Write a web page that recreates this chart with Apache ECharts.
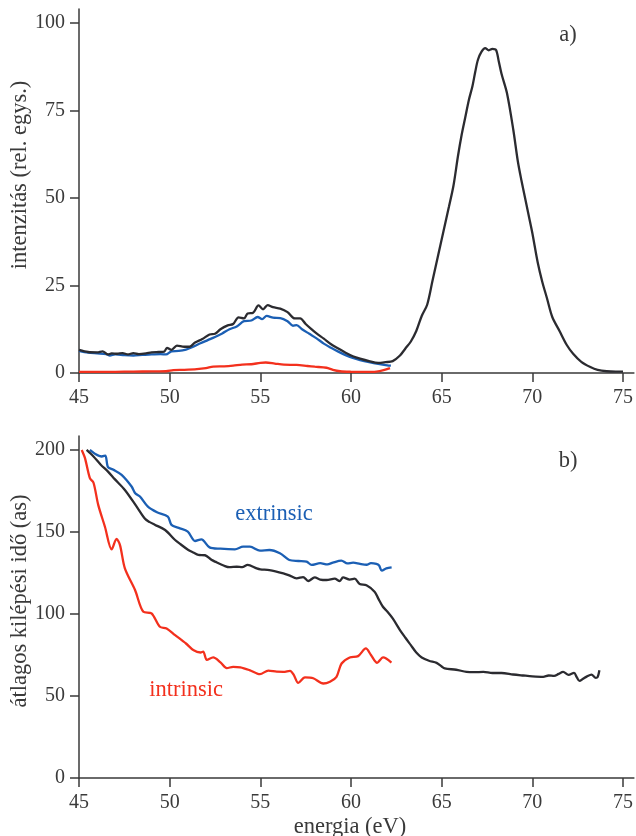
<!DOCTYPE html>
<html>
<head>
<meta charset="utf-8">
<script src="https://cdn.jsdelivr.net/npm/echarts@6/dist/echarts.min.js"></script>
<style>
  html, body { margin: 0; padding: 0; background: #fff; }
  #chart { width: 636px; height: 836px; }
</style>
</head>
<body>
<div id="chart"></div>
<script>
// a) intenzitás
const teljesE = [45.0, 45.5, 46.0, 46.3, 46.6, 46.8, 47.1, 47.4, 47.7, 48.0, 48.3, 48.7, 49.0, 49.4, 49.7, 49.85, 50.1, 50.4, 50.8, 51.1, 51.4, 51.8, 52.2, 52.5, 52.8, 53.2, 53.5, 53.8, 54.1, 54.3, 54.6, 54.9, 55.15, 55.4, 55.7, 56.1, 56.5, 56.9, 57.2, 57.5, 57.8, 58.1, 58.5, 58.9, 59.3, 59.7, 60.1, 60.5, 61.0, 61.5, 61.9, 62.3, 62.7, 63.0, 63.3, 63.6, 63.9, 64.2, 64.5, 64.8, 65.1, 65.4, 65.65, 65.9, 66.1, 66.3, 66.5, 66.7, 66.85, 67.0, 67.2, 67.4, 67.6, 67.8, 68.0, 68.15, 68.3, 68.6, 68.95, 69.2, 69.4, 69.6, 69.8, 70.0, 70.3, 70.55, 70.8, 71.1, 71.5, 71.9, 72.25, 72.7, 73.2, 73.6, 74.1, 74.6, 75.0]
const teljesI = [6.6, 6.0, 5.9, 6.2, 5.3, 5.6, 5.5, 5.7, 5.3, 5.7, 5.4, 5.6, 5.9, 6.0, 6.1, 7.2, 6.6, 7.8, 7.5, 7.5, 8.7, 9.7, 11.0, 11.2, 12.5, 13.6, 14.0, 15.9, 15.6, 17.0, 17.2, 19.3, 18.2, 19.4, 18.8, 18.4, 17.4, 15.6, 15.6, 14.0, 12.6, 11.3, 9.8, 8.2, 7.0, 5.8, 4.8, 4.1, 3.4, 2.9, 3.1, 3.4, 5.0, 7.0, 9.0, 12.0, 16.3, 19.5, 26.5, 33.5, 40.5, 47.5, 53.5, 62.0, 68.0, 73.0, 78.0, 82.0, 86.0, 89.5, 91.8, 92.8, 92.2, 92.6, 92.3, 89.0, 85.5, 80.0, 69.5, 60.5, 55.0, 50.0, 45.0, 40.0, 31.5, 26.0, 21.5, 16.0, 12.0, 8.0, 5.5, 3.2, 1.7, 0.9, 0.5, 0.4, 0.4]

const extrE = [45.0, 45.5, 46.0, 46.5, 46.7, 47.0, 47.5, 48.0, 48.5, 49.0, 49.5, 49.8, 50.1, 50.5, 50.9, 51.3, 51.7, 52.1, 52.5, 52.9, 53.3, 53.7, 54.1, 54.5, 54.85, 55.1, 55.35, 55.7, 56.1, 56.5, 56.8, 57.0, 57.3, 57.7, 58.1, 58.5, 58.9, 59.3, 59.7, 60.1, 60.5, 61.0, 61.5, 62.0, 62.2]
const extrI = [6.3, 5.8, 5.6, 5.4, 5.0, 5.3, 5.1, 5.0, 5.2, 5.3, 5.4, 5.3, 6.2, 6.3, 6.7, 7.5, 8.5, 9.4, 10.3, 11.3, 12.5, 13.3, 14.8, 15.0, 16.0, 15.4, 16.3, 15.8, 15.7, 14.8, 13.5, 13.7, 12.5, 11.2, 9.9, 8.4, 7.2, 6.1, 5.1, 4.3, 3.7, 3.1, 2.6, 2.2, 2.1]

const intrE = [45.0, 46.0, 47.0, 48.0, 49.0, 49.8, 50.2, 50.8, 51.5, 52.0, 52.4, 53.0, 53.5, 54.0, 54.5, 55.0, 55.3, 55.8, 56.3, 57.0, 57.6, 58.0, 58.65, 59.0, 59.4, 60.0, 60.8, 61.4, 61.8, 62.15]
const intrI = [0.3, 0.3, 0.35, 0.4, 0.45, 0.5, 0.8, 0.9, 1.1, 1.4, 1.8, 1.9, 2.1, 2.4, 2.5, 2.9, 3.0, 2.7, 2.4, 2.3, 2.0, 1.8, 1.5, 0.9, 0.5, 0.35, 0.3, 0.4, 0.8, 1.4]

// b) átlagos kilépési idő
const teljesTE = [45.42, 45.8, 46.2, 46.6, 46.97, 47.53, 48.18, 48.64, 48.9, 49.2, 49.75, 50.3, 50.6, 51.03, 51.3, 51.58, 51.95, 52.3, 52.5, 53.05, 53.3, 53.7, 54.0, 54.3, 54.8, 55.0, 55.5, 56.27, 56.6, 57.0, 57.36, 57.64, 58.0, 58.3, 58.65, 59.1, 59.38, 59.56, 59.93, 60.2, 60.48, 60.85, 61.3, 61.5, 61.76, 62.0, 62.3, 62.7, 63.0, 63.3, 63.6, 63.9, 64.3, 64.72, 65.0, 65.17, 65.8, 66.37, 66.8, 67.3, 67.8, 68.3, 68.94, 69.5, 70.0, 70.6, 70.9, 71.2, 71.45, 71.7, 72.0, 72.3, 72.45, 72.6, 72.8, 73.0, 73.26, 73.5, 73.6, 73.7]
const teljesT = [200, 196, 191, 186.8, 182.2, 175.6, 165.4, 158, 156, 154.3, 151.2, 145.1, 142.5, 139, 137.5, 136, 135.8, 133, 131.9, 129.2, 128.5, 128.8, 128.5, 129.9, 127.8, 127.2, 126.8, 124.8, 123.5, 121.7, 122.5, 120.1, 122.3, 121, 120.7, 121.5, 120.1, 122.3, 121, 121.5, 118.2, 117.5, 113.6, 109.5, 104.4, 101.5, 97.3, 90.2, 85.5, 81, 76.5, 73.5, 71.5, 70.2, 68, 66.8, 66, 64.7, 64.5, 64.7, 64, 64, 63.1, 62.5, 62, 61.7, 62.5, 62.2, 63.5, 64.7, 62.9, 64.1, 61.5, 59.2, 60.5, 61.8, 63, 61, 61.5, 65.7]

const extrTE = [45.6, 45.9, 46.25, 46.45, 46.6, 46.9, 47.35, 47.9, 48.1, 48.36, 48.8, 49.3, 49.9, 50.1, 50.5, 51.0, 51.4, 51.75, 52.2, 52.8, 53.6, 54.05, 54.43, 54.98, 55.5, 56.08, 56.6, 57.1, 57.55, 57.83, 58.3, 58.7, 59.0, 59.47, 59.8, 60.12, 60.5, 60.86, 61.1, 61.4, 61.55, 61.7, 61.95, 62.24]
const extrT = [200, 197.5, 196, 196.5, 189.5, 187.9, 184.8, 177.7, 173.6, 171.6, 165.4, 162, 159.3, 154.3, 152.5, 150.2, 144.5, 145.5, 140.6, 139.8, 139.4, 141, 141, 138.6, 139, 137, 132.9, 132.3, 131.9, 129.9, 131, 130.2, 131.3, 132.5, 130.8, 131.3, 130.5, 130, 131, 130.5, 129.5, 126.4, 127.8, 128.4]

const intrTE = [45.15, 45.33, 45.6, 45.8, 46.06, 46.43, 46.8, 47.07, 47.26, 47.53, 48.09, 48.55, 49.0, 49.46, 49.83, 50.3, 50.9, 51.3, 51.7, 51.85, 52.05, 52.4, 52.8, 53.15, 53.5, 53.9, 54.4, 54.98, 55.44, 55.9, 56.27, 56.64, 56.85, 57.09, 57.46, 57.92, 58.47, 58.84, 59.2, 59.48, 59.93, 60.39, 60.82, 61.1, 61.44, 61.77, 62.23]
const intrT = [200, 195, 182.8, 180, 166.5, 153.2, 139.4, 145.7, 142, 127.8, 114.6, 101.3, 100.4, 92.2, 91.2, 87.1, 82, 78, 76.5, 77, 72, 73.5, 70.5, 67, 67.8, 67.5, 65.8, 63.3, 65.5, 64.8, 64.7, 65.3, 62.7, 58, 61.3, 60.8, 57.6, 58.7, 61.7, 69.8, 73.5, 74.3, 79, 75, 70.2, 73.5, 70.4]

const xTicks = [45, 50, 55, 60, 65, 70, 75]
const yTicksA = [0, 25, 50, 75, 100]
const yTicksB = [0, 50, 100, 150, 200]

const zip = (xs, ys) => xs.map((x, i) => [x, ys[i]])

const fekete = '#2b2b30'
const kek = '#1b5fb4'
const piros = '#f3301d'
const tengely = '#3a3a3a'
const betu = 'Liberation Serif, DejaVu Serif, serif'
const cimBetu = '22.5px ' + betu

const tengelyX = (idx) => ({
  type: 'value', gridIndex: idx, min: 45, max: 75.6,
  axisLine: {lineStyle: {color: tengely, width: 1.5}},
  axisTick: {length: 9, lineStyle: {color: tengely, width: 1.5}, customValues: xTicks},
  axisLabel: {color: tengely, fontSize: 20, fontFamily: betu, margin: 15, customValues: xTicks},
  splitLine: {show: false}
})
const tengelyY = (idx, max, ticks) => ({
  type: 'value', gridIndex: idx, min: 0, max: max,
  axisLine: {show: true, lineStyle: {color: tengely, width: 1.5}},
  axisTick: {show: true, length: 9, lineStyle: {color: tengely, width: 1.5}, customValues: ticks},
  axisLabel: {color: tengely, fontSize: 20, fontFamily: betu, margin: 14, customValues: ticks},
  splitLine: {show: false}
})
const vonal = (data, szin, idx) => ({
  type: 'line', data: data, xAxisIndex: idx, yAxisIndex: idx,
  showSymbol: false, symbol: 'none', smooth: 0.3, silent: true,
  lineStyle: {color: szin, width: 2.3}
})

const chart = echarts.init(document.getElementById('chart'))
chart.setOption({
  animation: false,
  backgroundColor: '#fff',
  grid: [
    {left: 79, right: 2, top: 9, bottom: 463},
    {left: 79, right: 2, top: 436, bottom: 58}
  ],
  xAxis: [tengelyX(0), tengelyX(1)],
  yAxis: [tengelyY(0, 104, yTicksA), tengelyY(1, 208.5, yTicksB)],
  series: [
    vonal(zip(intrE, intrI), piros, 0),
    vonal(zip(extrE, extrI), kek, 0),
    vonal(zip(teljesE, teljesI), fekete, 0),
    vonal(zip(intrTE, intrT), piros, 1),
    vonal(zip(extrTE, extrT), kek, 1),
    vonal(zip(teljesTE, teljesT), fekete, 1)
  ],
  graphic: [
    {type: 'text', x: 20, y: 175, rotation: Math.PI / 2,
      style: {text: 'intenzitás (rel. egys.)', fill: tengely, font: cimBetu, align: 'center', verticalAlign: 'middle'}},
    {type: 'text', x: 20, y: 601, rotation: Math.PI / 2,
      style: {text: 'átlagos kilépési idő (as)', fill: tengely, font: cimBetu, align: 'center', verticalAlign: 'middle'}},
    {type: 'text', x: 350, y: 827,
      style: {text: 'energia (eV)', fill: tengely, font: cimBetu, align: 'center', verticalAlign: 'middle'}},
    {type: 'text', x: 568, y: 35,
      style: {text: 'a)', fill: tengely, font: cimBetu, align: 'center', verticalAlign: 'middle'}},
    {type: 'text', x: 568, y: 461,
      style: {text: 'b)', fill: tengely, font: cimBetu, align: 'center', verticalAlign: 'middle'}},
    {type: 'text', x: 274, y: 514,
      style: {text: 'extrinsic', fill: kek, font: cimBetu, align: 'center', verticalAlign: 'middle'}},
    {type: 'text', x: 186, y: 690,
      style: {text: 'intrinsic', fill: piros, font: cimBetu, align: 'center', verticalAlign: 'middle'}}
  ]
})
window.onresize = function () {
  chart.resize()
}
</script>
</body>
</html>
